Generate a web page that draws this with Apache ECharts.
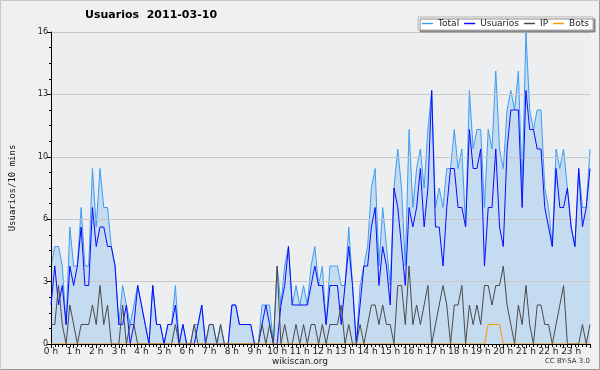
<!DOCTYPE html>
<html><head><meta charset="utf-8">
<script src="https://cdn.jsdelivr.net/npm/echarts@6/dist/echarts.min.js"></script>
<style>html,body{margin:0;padding:0;background:#f0f0f0}#c{width:600px;height:370px}</style>
</head><body><div id="c"></div>
<script>
const hourLabels = ['0 h','1 h','2 h','3 h','4 h','5 h','6 h','7 h','8 h','9 h','10 h','11 h','12 h','13 h','14 h','15 h','16 h','17 h','18 h','19 h','20 h','21 h','22 h','23 h'];
const yTickValues = [0, 3.2, 6.4, 9.6, 12.8, 16];
const yTickLabels = ['0', '3', '6', '10', '13', '16'];

const usuarios = [
2,4,2,3,1,4,3,4,6,3,
3,7,5,6,6,5,5,4,1,1,
2,0,1,3,2,1,0,3,1,1,
0,1,1,2,0,1,0,0,0,1,
2,0,0,0,0,0,0,0,2,2,
1,1,1,1,0,0,1,2,1,0,
0,2,3,5,2,2,2,2,2,3,
4,3,3,1,3,3,3,1,3,5,
3,0,2,4,4,6,7,3,5,4,
2,8,7,5,3,7,6,7,9,6,
8,13,6,6,4,7,9,9,7,7,
6,11,9,9,10,4,7,7,10,6,
5,10,12,12,12,7,13,11,11,10,
10,7,6,5,9,7,7,8,6,5,
9,6,7,9];
const ip = [
1,1,3,1,0,2,1,0,1,1,
1,2,1,3,1,2,0,0,0,2,
0,1,1,0,0,0,0,0,0,0,
0,0,0,1,0,0,0,0,1,0,
0,0,1,1,0,1,0,0,0,0,
0,0,0,0,0,0,1,0,1,0,
4,0,1,0,0,1,0,1,0,1,
1,0,1,0,1,1,1,2,0,1,
0,0,1,0,1,2,2,1,2,1,
1,0,3,3,1,4,1,2,1,2,
3,0,1,2,3,2,0,2,2,3,
0,2,1,2,1,3,3,2,3,3,
4,2,1,0,2,1,3,1,0,2,
2,1,1,0,1,2,3,0,0,0,
0,1,0,1];
const bots = [
0,0,0,0,0,0,0,0,0,0,
0,0,0,0,0,0,0,0,0,0,
0,0,0,0,0,0,0,0,0,0,
0,0,0,0,0,0,0,0,0,0,
0,0,0,0,0,0,0,0,0,0,
0,0,0,0,0,0,0,0,0,0,
0,0,0,0,0,0,0,0,0,0,
0,0,0,0,0,0,0,0,0,0,
0,0,0,0,0,0,0,0,0,0,
0,0,0,0,0,0,0,0,0,0,
0,0,0,0,0,0,0,0,0,0,
0,0,0,0,0,0,1,1,1,1,
0,0,0,0,0,0,0,0,0,0,
0,0,0,0,0,0,0,0,0,0,
0,0,0,0];
const total = [
4,5,5,4,1,6,4,4,7,4,
4,9,6,9,7,7,5,4,1,3,
2,1,2,3,2,1,0,3,1,1,
0,1,1,3,0,1,0,0,1,1,
2,0,1,1,0,1,0,0,2,2,
1,1,1,1,0,0,2,2,2,0,
4,2,4,5,2,3,2,3,2,4,
5,3,4,1,4,4,4,3,3,6,
3,0,3,4,5,8,9,4,7,5,
3,8,10,8,4,11,7,9,10,8,
11,13,7,8,7,9,9,11,9,10,
6,13,10,11,11,7,11,10,14,10,
9,12,13,12,14,8,16,12,11,12,
12,8,7,5,10,9,10,8,6,5,
9,7,7,10];

const pairs = arr => arr.map((v, i) => [i, v]);
const chart = echarts.init(document.getElementById('c'), null, {renderer: 'canvas'});
const FONT = 'DejaVu Sans';
const colors = {Total: '#3c9cf4', Usuarios: '#0a0aff', IP: '#4a4a4a', Bots: '#ff9900'};
chart.setOption({
  animation: false,
  backgroundColor: '#f0f0f0',
  title: {
    text: 'Usuarios  2011-03-10', left: 80, top: 5,
    textStyle: {fontFamily: FONT, fontWeight: 'bold', fontSize: 11, color: '#000'}
  },
  legend: {
    right: 7, top: 17, orient: 'horizontal',
    data: ['Total', 'Usuarios', 'IP', 'Bots'].map(n => ({
      name: n, icon: 'path://M0,0H12V1.6H0Z',
      itemStyle: {color: colors[n], borderWidth: 0}
    })),
    itemWidth: 11, itemHeight: 2, itemGap: 5,
    textStyle: {fontFamily: FONT, fontSize: 9, color: '#222'},
    backgroundColor: '#ffffff', borderColor: '#b0b0b0', borderWidth: 1,
    padding: [2, 4, 2, 4],
    shadowColor: '#888', shadowOffsetX: 2, shadowOffsetY: 2, shadowBlur: 0
  },
  grid: {left: 46, right: 10, top: 32, bottom: 26, show: true, backgroundColor: '#eceef0', borderWidth: 0},
  xAxis: {
    type: 'value', min: 0, max: 143, interval: 6, z: 5,
    axisLine: {show: true, lineStyle: {color: '#000', width: 1}},
    axisTick: {show: true, length: 4, lineStyle: {color: '#000'}},
    minorTick: {show: true, splitNumber: 6, length: 3, lineStyle: {color: '#000'}},
    splitLine: {show: false},
    axisLabel: {
      showMaxLabel: false, margin: 3, fontFamily: FONT, fontSize: 9, color: '#222',
      formatter: v => (v % 6 === 0 ? hourLabels[v / 6] : '')
    }
  },
  yAxis: {
    type: 'value', min: 0, max: 16, interval: 3.2, z: 3,
    name: 'Usuarios/10 mins', nameLocation: 'middle', nameGap: 34, nameRotate: 90,
    nameTextStyle: {fontFamily: 'DejaVu Sans Mono', fontSize: 9, color: '#111'},
    axisLine: {show: true, lineStyle: {color: '#000', width: 1}},
    axisTick: {show: true, length: 4, lineStyle: {color: '#000'}},
    minorTick: {show: true, splitNumber: 4, length: 2, lineStyle: {color: '#000'}},
    splitLine: {show: true, lineStyle: {color: '#c8c8c8', width: 1}},
    axisLabel: {
      margin: 3, fontFamily: FONT, fontSize: 8, color: '#222',
      formatter: v => {
        const k = yTickValues.findIndex(t => Math.abs(t - v) < 1e-6);
        return k >= 0 ? yTickLabels[k] : '';
      }
    }
  },
  series: [
    {name: 'Total', type: 'line', data: pairs(total), symbol: 'none', z: 1,
     color: colors.Total, lineStyle: {width: 1, color: colors.Total},
     areaStyle: {color: '#c5dbf0', opacity: 1}},
    {name: 'Usuarios', type: 'line', data: pairs(usuarios), symbol: 'none', z: 4,
     color: colors.Usuarios, lineStyle: {width: 1, color: colors.Usuarios}},
    {name: 'IP', type: 'line', data: pairs(ip), symbol: 'none', z: 4,
     color: colors.IP, lineStyle: {width: 1, color: colors.IP}},
    {name: 'Bots', type: 'line', data: pairs(bots), symbol: 'none', z: 4,
     color: colors.Bots, lineStyle: {width: 1, color: colors.Bots}}
  ],
  graphic: [
    {type: 'text', left: 'center', top: 357, style: {text: 'wikiscan.org', fontFamily: FONT, fontSize: 9, fill: '#222'}},
    {type: 'text', right: 10, top: 358, style: {text: 'CC BY-SA 3.0', fontFamily: FONT, fontSize: 7, fill: '#333'}},
    {type: 'polyline', shape: {points: [[0.5, 369.5], [0.5, 0.5], [599.5, 0.5]]}, style: {stroke: '#c8c8c8', fill: null, lineWidth: 1}},
    {type: 'polyline', shape: {points: [[0.5, 369.5], [599.5, 369.5], [599.5, 0.5]]}, style: {stroke: '#999', fill: null, lineWidth: 1}}
  ]
});
</script>
</body></html>
